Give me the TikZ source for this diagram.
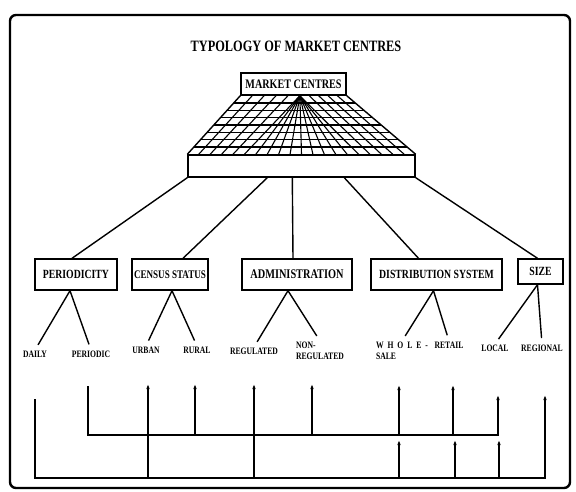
\documentclass[tikz,border=0pt]{standalone}
\usepackage{fontspec}
\setmainfont[FakeStretch=0.78]{Liberation Serif}
\usetikzlibrary{calc,arrows.meta,positioning}

\begin{document}
\begin{tikzpicture}[x=1pt, y=-1pt,
  every node/.style={font=\bfseries},
  frame/.style={line width=2.4pt, rounded corners=6pt},
  heading/.style={font=\bfseries\fontsize{15.8}{17}\selectfont},
  typebox/.style={draw, line width=1.4pt, minimum height=31pt, inner sep=1pt,
    font=\bfseries\fontsize{12.5}{14}\selectfont},
  leaf/.style={inner sep=1pt, anchor=north, font=\bfseries\fontsize{9.8}{11}\selectfont},
  link/.style={line width=1.4pt},
  grid/.style={line width=1.1pt},
  flow/.style={line width=1.5pt},
  tip/.style={flow, -{Latex[length=5pt,width=3.6pt]}}
]
\useasboundingbox (0,0) rectangle (576,491);
\draw[frame] (10,15) rectangle (570,488);
\node[heading] (title) at (296,46.5) {TYPOLOGY OF MARKET CENTRES};
% ── Market centres block ─────────────────────────
\node[draw, link, minimum width=105pt, minimum height=22pt, inner sep=0pt,
  font=\bfseries\fontsize{13}{14}\selectfont] (mc) at (293.5,84) {MARKET CENTRES};
\node[draw, link, minimum width=227pt, minimum height=22pt] (slab) at (301.5,166) {};
\draw[link] (mc.south west) -- (slab.north west);
\draw[link] (mc.south east) -- (slab.north east);
\foreach \k in {1,...,7} {
  \draw[grid] ($(mc.south west)!\k/8!(slab.north west)$) -- ($(mc.south east)!\k/8!(slab.north east)$);
}
\coordinate (fan) at ($(mc.south west)!0.56!(mc.south east)$);
\foreach \i in {1,...,19} {
  \pgfmathsetmacro\f{(\i-15)/5}
  \ifnum\i<5 \coordinate (top) at ($(mc.south west)!\i/5!(fan)$);
  \else\ifnum\i>15 \coordinate (top) at ($(fan)!\f!(mc.south east)$);
  \else \coordinate (top) at (fan); \fi\fi
  \draw[grid] ($(slab.north west)!\i/20!(slab.north east)$) -- (top);
}
% ── Types ────────────────────────────────────────
\node[typebox, minimum width=82pt] (per) at (76,274.5) {PERIODICITY};
\node[typebox, minimum width=76pt, font=\bfseries\fontsize{11.6}{13}\selectfont]
  (cen) at (170,274.5) {CENSUS STATUS};
\node[typebox, minimum width=110pt, font=\bfseries\fontsize{13.2}{14}\selectfont]
  (adm) at (297,274.5) {ADMINISTRATION};
\node[typebox, minimum width=131pt] (dis) at (436.5,274.5) {DISTRIBUTION SYSTEM};
\node[typebox, minimum width=45pt, minimum height=25pt] (siz) at (540.5,271.5) {SIZE};
\draw[link] (slab.south west) -- ($(per.north)+(-4,0)$);
\draw[link] ($(slab.south west)+(80,0)$) -- ($(cen.north)+(13,0)$);
\draw[link] ($(slab.south west)+(105,0)$) -- ($(adm.north)+(-4,0)$);
\draw[link] ($(slab.south west)+(157,0)$) -- ($(dis.north)+(-18,0)$);
\draw[link] (slab.south east) -- ($(siz.north)+(-3,0)$);
% ── Sub-types ────────────────────────────────────
\node[leaf] (daily) at (35,350) {DAILY};
\node[leaf] (periodic) at (91,350) {PERIODIC};
\node[leaf] (urban) at (146,346) {URBAN};
\node[leaf] (rural) at (197,346) {RURAL};
\node[leaf] (regulated) at (254,347) {REGULATED};
\node[leaf, align=left] (nonreg) at (320,341) {NON-\\REGULATED};
\node[leaf, align=left] (whole) at (402,341) {{\addfontfeatures{LetterSpace=40}WHOLE-}\\SALE};
\node[leaf] (retail) at (449,341) {RETAIL};
\node[leaf] (local) at (495,344) {LOCAL};
\node[leaf] (regional) at (542,344) {REGIONAL};
\foreach \b/\dx/\l/\r in {per/-6/daily/periodic, cen/2/urban/rural,
    adm/-9/regulated/nonreg, dis/-3/whole/retail, siz/-3/local/regional} {
  \draw[link, shorten >=6pt] ($(\b.south)+(\dx,0)$) -- (\l.north);
  \draw[link, shorten >=6pt] ($(\b.south)+(\dx,0)$) -- (\r.north);
}
% ── Lower flow line ──────────────────────────────
\coordinate (lo-w) at (35,399);
\coordinate (lo-e) at (545,478);
\coordinate (lo-tip) at (545,395);
\draw[tip] (lo-w) |- (lo-e) -- (lo-tip);
\foreach \x/\y [count=\n] in {148/384, 254/384, 399/440, 455/440, 499/440} {
  \coordinate (lo-\n) at (\x,478);
  \coordinate (lo-\n-tip) at (\x,\y);
  \draw[tip] (lo-\n) -- (lo-\n-tip);
}
% ── Upper flow line ──────────────────────────────
\coordinate (up-w) at (88,386);
\coordinate (up-e) at (498,435);
\coordinate (up-tip) at (498,395);
\draw[tip] (up-w) |- (up-e) -- (up-tip);
\foreach \x/\y [count=\n] in {195/384, 312/384, 399/385, 453/385} {
  \coordinate (up-\n) at (\x,435);
  \coordinate (up-\n-tip) at (\x,\y);
  \draw[tip] (up-\n) -- (up-\n-tip);
}
\end{tikzpicture}
\end{document}
